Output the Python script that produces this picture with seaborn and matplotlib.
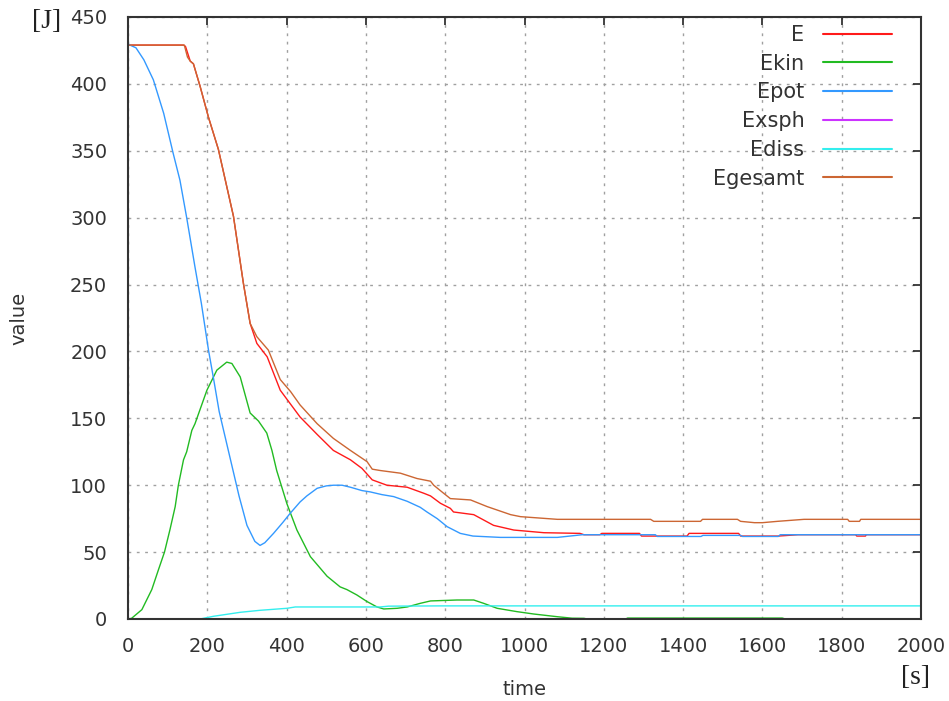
import matplotlib
matplotlib.use("Agg")
import matplotlib.pyplot as plt
import seaborn as sns
import numpy as np

# ---------------- data ----------------
t_E = [0, 140, 145, 157, 165, 182, 203, 228, 266, 291, 308, 325, 351, 384, 434, 477, 518,
       561, 590, 616, 653, 687, 704, 746, 763, 788, 813, 821, 872, 922, 973, 1049, 1140, 1150,
       1190, 1195, 1290, 1295, 1410, 1415, 1540, 1545, 1640, 1690, 1835, 1838, 1860, 1862, 2000]
v_E = [429, 429, 428, 417, 415, 398, 375, 351, 301, 251, 221, 206, 196, 171, 151, 138, 126,
       119, 112.6, 104, 100, 99, 98.5, 94, 92, 86.5, 82.7, 80, 78, 70, 66.5, 64.5, 64, 63,
       63, 64, 64, 62, 62, 64, 64, 62, 62, 63, 63, 62, 62, 63, 63]

t_Ekin = [0, 9, 35, 60, 77, 92, 106, 119, 127, 140, 148, 161, 169, 199, 224, 249, 262, 283,
          308, 329, 350, 363, 375, 401, 426, 460, 502, 535, 552, 577, 603, 628, 645, 679, 704,
          737, 763, 830, 872, 897, 931, 981, 1024, 1083, 1120, 1150, 1158, 1255, 1260, 1650,
          1658, 2000]
v_Ekin = [0, 0.5, 7, 22, 37, 50, 67, 84, 100, 119, 125, 141, 146, 171, 186, 192, 191, 181,
          154, 148, 139, 126, 111, 86, 66.5, 46.6, 32, 24, 22, 18, 13, 9, 7.5, 8, 9,
          11.7, 13.5, 14.2, 14.2, 11.7, 8, 5.5, 3.7, 1.7, 0.6, 0.5, 0, 0, 0.7, 0.7,
          0, 0]

t_Epot = [0, 5, 20, 40, 64, 90, 114, 131, 148, 169, 185, 203, 215, 230, 253, 280, 300, 320,
          333, 345, 367, 390, 409, 434, 451, 477, 500, 518, 540, 561, 590, 611, 640, 670, 704,
          737, 754, 780, 805, 838, 870, 939, 1083, 1146, 1330, 1335, 1445, 1450, 1545, 1550,
          1640, 1645, 2000]
v_Epot = [430, 429, 427, 418, 403, 378, 348, 328, 300, 263, 236, 201, 181, 155, 126, 92, 70, 58,
          55, 57, 64, 72, 79, 87.5, 92, 97.7, 99.5, 100, 100, 98.5, 96, 95, 93, 91.5, 88,
          83.5, 80, 75, 69, 64, 62, 61, 61, 63, 63, 61.7, 61.7, 62.5, 62.5, 61.7,
          61.7, 63, 63]

t_Exsph = [0, 2000]
v_Exsph = [0, 0]

t_Ediss = [0, 182, 215, 283, 333, 401, 422, 636, 657, 788, 2000]
v_Ediss = [0, 0, 2, 5, 6.5, 8, 9, 9, 9.6, 9.8, 9.8]

t_Eges = [0, 142, 150, 157, 165, 182, 203, 228, 266, 291, 308, 325, 354, 384, 410, 434, 477,
          518, 561, 603, 616, 636, 687, 729, 763, 771, 796, 813, 864, 906, 965, 990, 1083,
          1318, 1326, 1444, 1449, 1537, 1545, 1580, 1600, 1638, 1705, 1815, 1819, 1845, 1848,
          2000]
v_Eges = [429, 429, 420, 417, 415, 398, 375, 351, 301, 251, 221, 211, 201, 179, 170, 160, 146,
          135, 126, 117.6, 112, 111, 109, 105, 103, 100, 94, 90, 89, 84, 78, 76.5, 74.5,
          74.5, 73, 73, 74.5, 74.5, 73, 72, 72, 73, 74.5, 74.5, 73, 73, 74.5,
          74.5]

labels = ["E", "Ekin", "Epot", "Exsph", "Ediss", "Egesamt"]
colors = ["#ff1a1a", "#22bb22", "#3399ff", "#cc33ff", "#33eeee", "#cc6633"]
x_ticks = list(range(0, 2001, 200))
y_ticks = list(range(0, 451, 50))

# ---------------- figure ----------------
sns.set_theme(style="white")
plt.rcParams['font.family'] = ['DejaVu Sans']

fig = plt.figure(figsize=(9.49, 7.01), dpi=100)
ax = fig.add_axes([128 / 949, 1 - 619 / 701, (921 - 128) / 949, (619 - 17) / 701])

series = [(t_E, v_E), (t_Ekin, v_Ekin), (t_Epot, v_Epot), (t_Exsph, v_Exsph),
          (t_Ediss, v_Ediss), (t_Eges, v_Eges)]
for (tt, vv), lab, col in zip(series, labels, colors):
    z = 1.5 if lab == "Exsph" else 2
    sns.lineplot(x=tt, y=vv, ax=ax, label=lab, color=col, linewidth=1.0,
                 sort=False, estimator=None, zorder=z)

ax.set_xlim(0, 2000)
ax.set_ylim(0, 450)
ax.set_xticks(x_ticks)
ax.set_yticks(y_ticks)
ax.grid(True, color="#a0a0a0", linestyle=(0, (2, 4)), linewidth=1.0)
ax.set_axisbelow(True)

for s in ax.spines.values():
    s.set_color("#333333")
    s.set_linewidth(1.5)
    s.set_zorder(3)

ax.tick_params(axis="both", which="major", direction="in", length=6, width=1.2,
               color="#222222", labelsize=14, labelcolor="#333333",
               top=True, right=True)
ax.tick_params(axis="y", pad=15)
ax.tick_params(axis="x", pad=13)

ax.set_xlabel("time", fontsize=14, color="#333333")
ax.set_ylabel("value", fontsize=14, color="#333333")
ax.xaxis.set_label_coords(0.5, -0.102)
ax.yaxis.set_label_coords(-0.126, 0.5)

fig.text(46.7 / 949, 1 - 21 / 701, "[J]", family=["Liberation Serif", "DejaVu Serif"],
         fontsize=20, ha="center", va="center", color="#222222")
fig.text(915.7 / 949, 1 - 677 / 701, "[s]", family=["Liberation Serif", "DejaVu Serif"],
         fontsize=20, ha="center", va="center", color="#222222")

leg = ax.legend(loc="upper right", frameon=False, markerfirst=False, fontsize=15,
                handlelength=3.3, handletextpad=0.9, labelspacing=0.42,
                bbox_to_anchor=(892 / 949, 1 - 25 / 701), bbox_transform=fig.transFigure,
                borderaxespad=0, borderpad=0)
for txt in leg.get_texts():
    txt.set_color("#333333")
for h in leg.legend_handles:
    h.set_linewidth(1.5)

fig.savefig("out.png", dpi=100)
